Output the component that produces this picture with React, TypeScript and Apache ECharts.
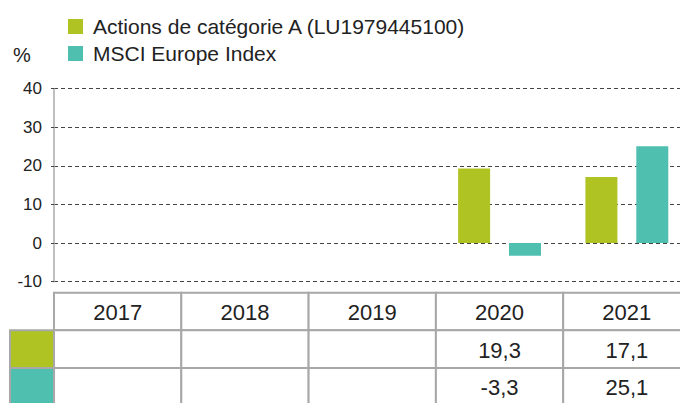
import React, { useEffect, useRef } from "react";
import * as echarts from "echarts";

const years = ["2017", "2018", "2019", "2020", "2021"];
const shareClassA: (number | null)[] = [null, null, null, 19.3, 17.1];
const msciEurope: (number | null)[] = [null, null, null, -3.3, 25.1];
const seriesNames = ["Actions de catégorie A (LU1979445100)", "MSCI Europe Index"];
const seriesColors = ["#afc322", "#4fbfb0"];
const yTicks = { min: -10, max: 40, interval: 10 };
const tableRows = ["header", "A", "B"];

const FONT = "'Liberation Sans', Arial, Helvetica, sans-serif";
const TEXT = "#222222";
const BORDER = "#a8a8a8";
const SWATCH_W = 44;

const fmt = (v: number | null) => (v == null ? "" : v.toFixed(1).replace(".", ","));

type Cell = { col: number; row: number; text: string; swatch?: string };

const cells: Cell[] = [];
years.forEach((y, c) => cells.push({ col: c, row: 0, text: y }));
[shareClassA, msciEurope].forEach((arr, i) => {
  arr.forEach((v, c) => cells.push({ col: c, row: i + 1, text: fmt(v) }));
  cells.push({ col: 0, row: i + 1, text: "", swatch: seriesColors[i] });
});

export default function App() {
  const ref = useRef<HTMLDivElement>(null);
  useEffect(() => {
    if (!ref.current) return;
    const chart = echarts.init(ref.current, undefined, { renderer: "svg" });
    const option: any = {
      animation: false,
      textStyle: { fontFamily: FONT },
      title: {
        text: "%",
        left: 13,
        top: 45,
        padding: 0,
        textStyle: { fontSize: 20, fontWeight: "normal", color: TEXT, fontFamily: FONT },
      },
      legend: {
        orient: "vertical",
        left: 68,
        top: 16,
        padding: 0,
        itemGap: 6,
        itemWidth: 15,
        itemHeight: 15,
        icon: "rect",
        data: seriesNames,
        textStyle: { fontSize: 21, color: TEXT, fontFamily: FONT, padding: [0, 0, 0, 5] },
      },
      grid: [
        { left: 54, top: 88.7, width: 636.5, height: 193, outerBoundsMode: "none", containLabel: false },
        { left: 54, top: 292.7, width: 636.5, height: 113, outerBoundsMode: "none", containLabel: false },
      ],
      xAxis: [
        { type: "category", data: years, gridIndex: 0, show: false },
        { type: "category", data: years, gridIndex: 1, show: false },
      ],
      yAxis: [
        {
          type: "value",
          gridIndex: 0,
          min: yTicks.min,
          max: yTicks.max,
          interval: yTicks.interval,
          axisLine: { show: true, lineStyle: { color: "#aaaaaa", width: 1.5 } },
          axisTick: { show: true, length: 3, lineStyle: { color: "#444444", width: 1 } },
          axisLabel: { color: TEXT, fontSize: 17, margin: 12, fontFamily: FONT },
          splitLine: { show: true, lineStyle: { color: "#444444", width: 1, type: [4, 3] } },
        },
        { type: "category", data: tableRows, gridIndex: 1, inverse: true, show: false },
      ],
      series: [
        {
          name: seriesNames[0],
          type: "bar",
          xAxisIndex: 0,
          yAxisIndex: 0,
          data: shareClassA,
          barWidth: 32,
          barGap: "59%",
          itemStyle: { color: seriesColors[0] },
        },
        {
          name: seriesNames[1],
          type: "bar",
          xAxisIndex: 0,
          yAxisIndex: 0,
          data: msciEurope,
          barWidth: 32,
          barGap: "59%",
          itemStyle: { color: seriesColors[1] },
        },
        {
          type: "custom",
          xAxisIndex: 1,
          yAxisIndex: 1,
          clip: false,
          data: cells.map((c) => [c.col, c.row]),
          encode: { x: 0, y: 1 },
          renderItem: (params: any, api: any) => {
            const cell = cells[params.dataIndex];
            const [cx, cy] = api.coord([cell.col, cell.row]);
            const [w, h] = api.size([1, 1]);
            if (cell.swatch) {
              return {
                type: "rect",
                shape: { x: cx - w / 2 - SWATCH_W, y: cy - h / 2, width: SWATCH_W, height: h },
                style: { fill: cell.swatch, stroke: BORDER, lineWidth: 2 },
              };
            }
            return {
              type: "group",
              children: [
                {
                  type: "rect",
                  shape: { x: cx - w / 2, y: cy - h / 2, width: w, height: h },
                  style: { fill: "#ffffff", stroke: BORDER, lineWidth: 2 },
                },
                {
                  type: "text",
                  style: {
                    text: cell.text,
                    x: cx,
                    y: cy + 1,
                    align: "center",
                    verticalAlign: "middle",
                    fontSize: 22,
                    fill: TEXT,
                    fontFamily: FONT,
                  },
                },
              ],
            };
          },
        },
      ],
    };
    chart.setOption(option);
    return () => chart.dispose();
  }, []);
  return (
    <div
      ref={ref}
      style={{ position: "absolute", left: 0, top: 0, width: 680, height: 403, background: "#fff" }}
    />
  );
}
